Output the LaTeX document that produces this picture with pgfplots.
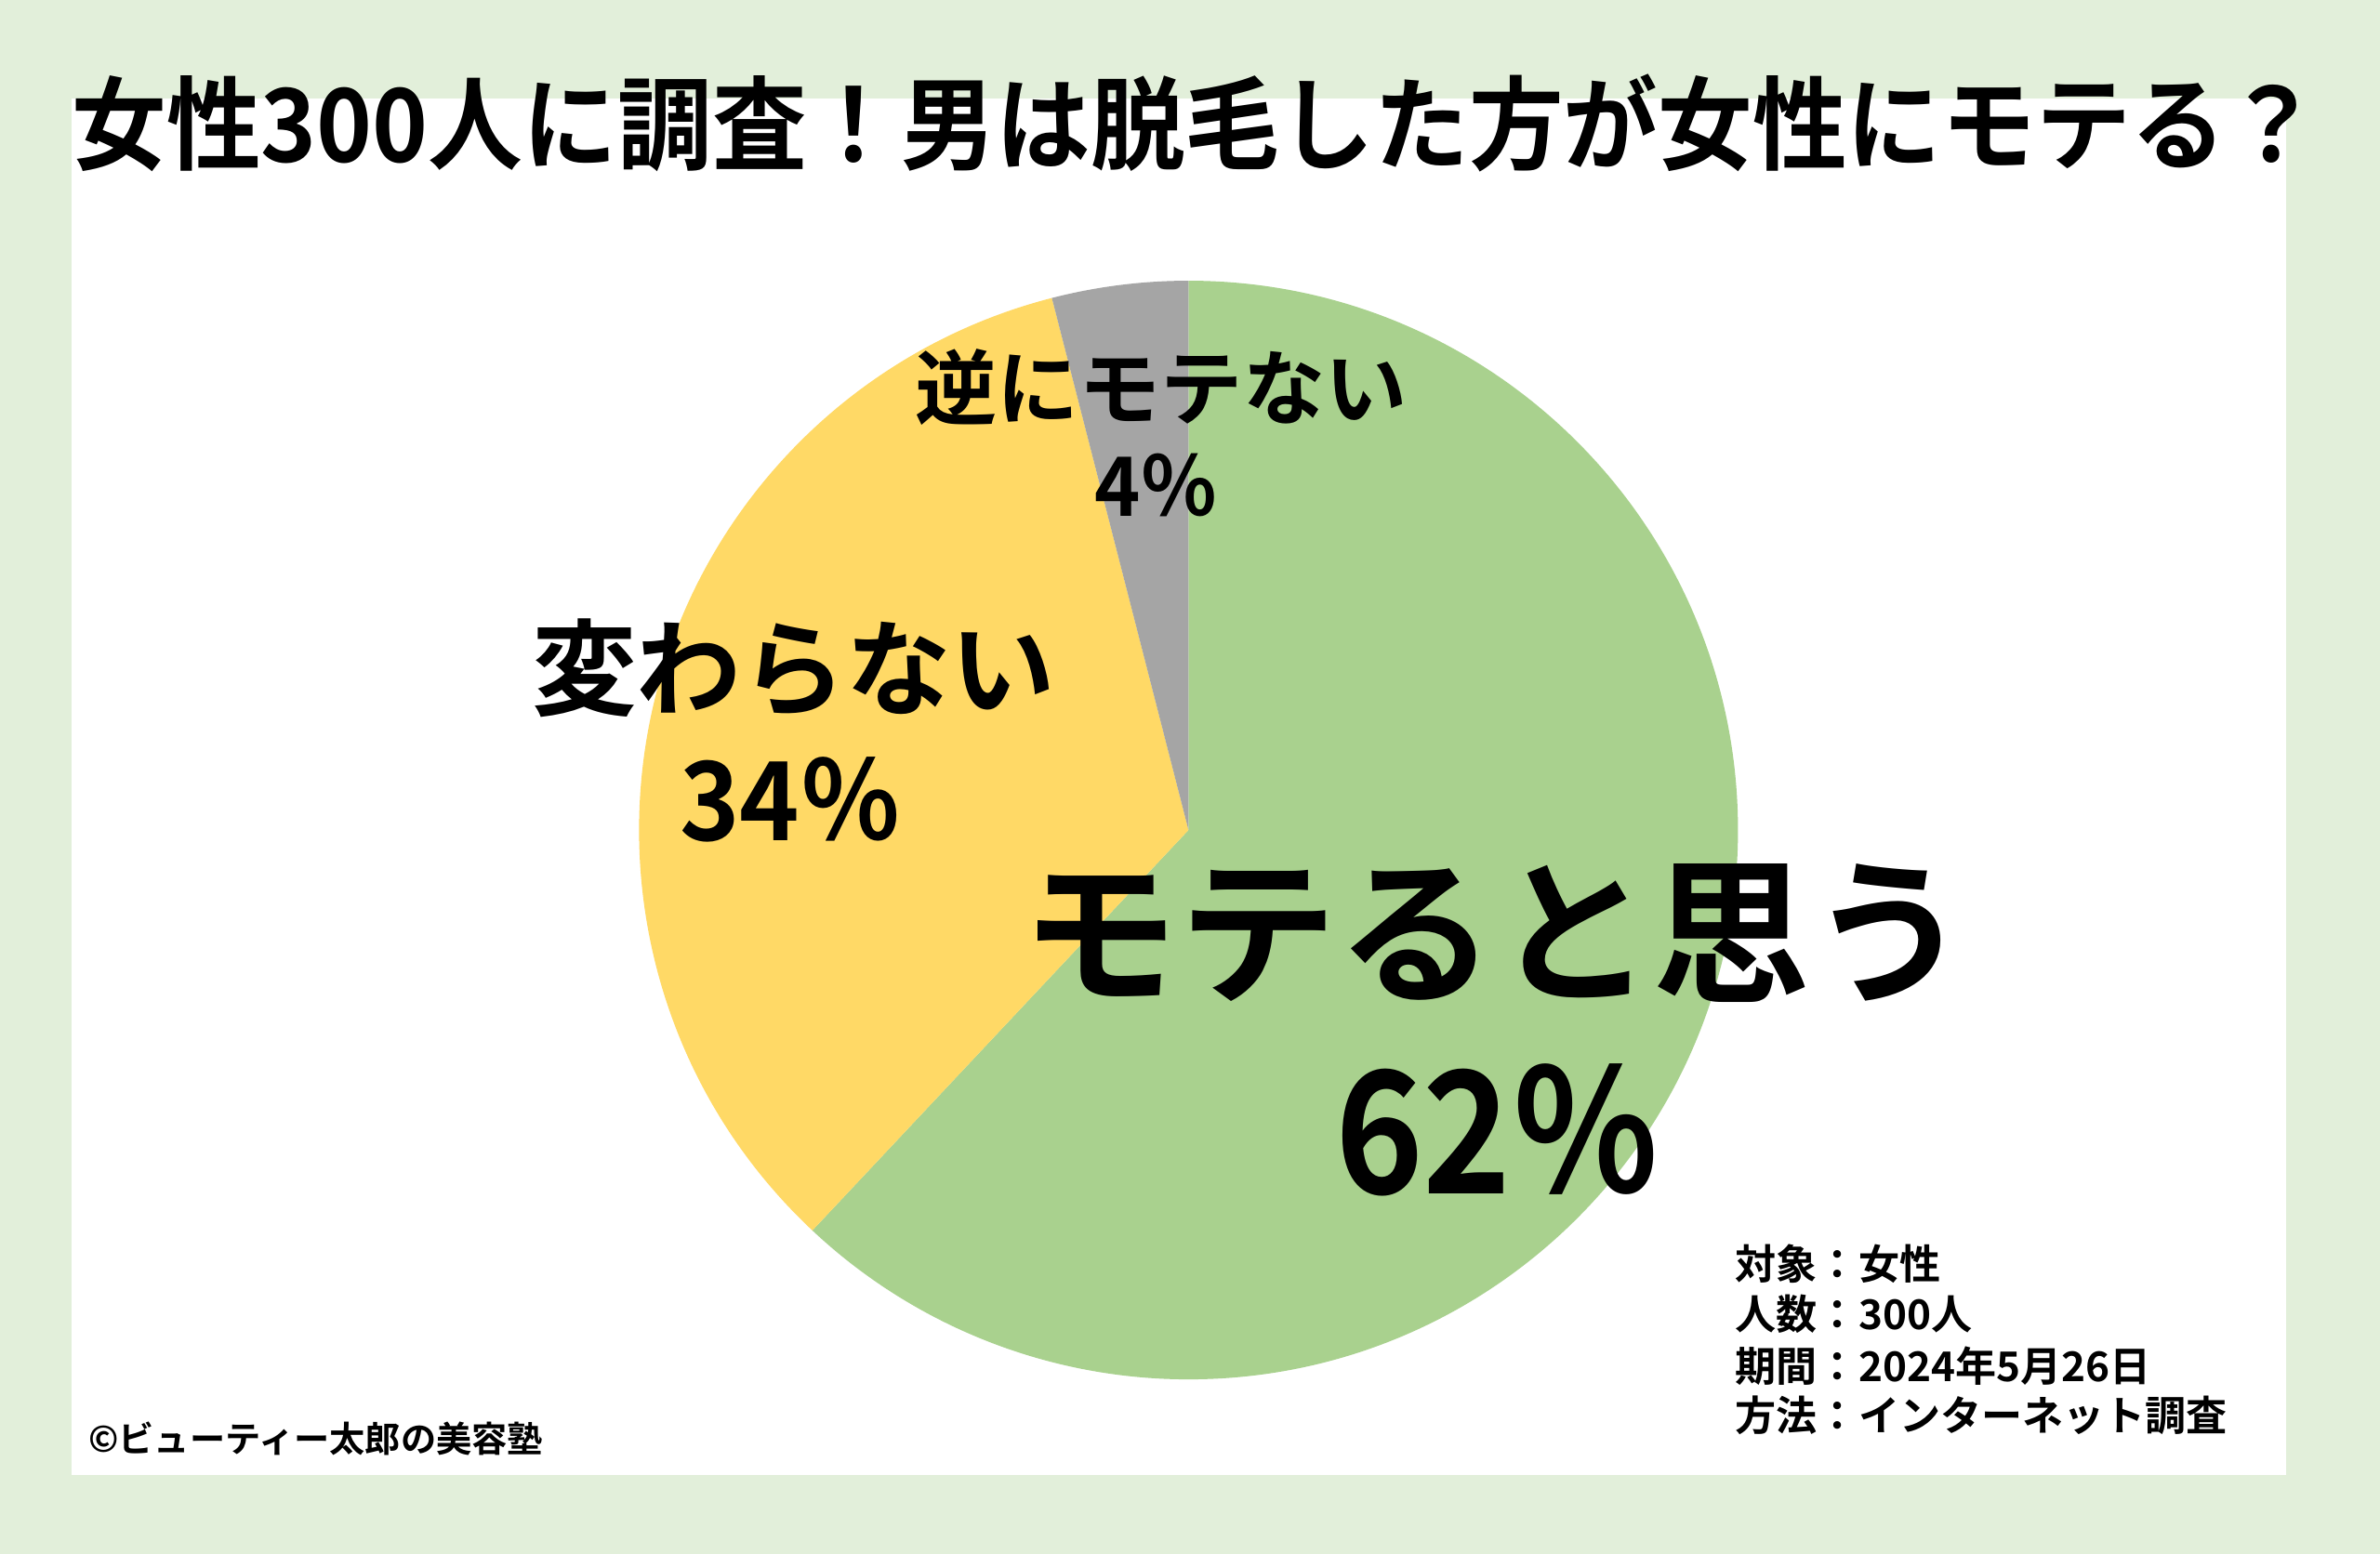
\documentclass[border=0pt]{standalone}
\usepackage{fontspec}
\usepackage{pgfplots}
\usepackage{pgfplotstable}
\pgfplotsset{compat=1.18}
\newfontfamily\jp{Noto Sans CJK JP}[BoldFont={* Bold}]
\definecolor{bgc}{HTML}{E2EFDA}
\definecolor{pieG}{HTML}{A9D18E}
\definecolor{pieY}{HTML}{FFD966}
\definecolor{pieS}{HTML}{A5A5A5}
\pgfplotstableread{
value
62
34
4
}\piedata
\begin{document}%
\begin{tikzpicture}
\pgfplotstablegetelem{0}{value}\of\piedata \let\vA\pgfplotsretval
\pgfplotstablegetelem{1}{value}\of\piedata \let\vB\pgfplotsretval
\pgfplotstablegetelem{2}{value}\of\piedata \let\vC\pgfplotsretval
\pgfmathsetmacro\aA{90}
\pgfmathsetmacro\aB{\aA-3.6*\vA}
\pgfmathsetmacro\aC{\aB-3.6*\vB}
\pgfmathsetmacro\aD{\aC-3.6*\vC}
\begin{axis}[
  scale only axis, width=784pt, height=512pt,
  xmin=0, xmax=1568, ymin=0, ymax=1024,
  hide axis, clip=false,
]
\fill[bgc] (axis cs:0,0) rectangle (axis cs:1568,1024);
\fill[white] (axis cs:47,52) rectangle (axis cs:1506,959);
% pie
\fill[pieG] (axis cs:783,477) -- ([shift={(canvas polar cs:angle=\aA,radius=181pt)}]axis cs:783,477) arc[start angle=\aA, end angle=\aB, radius=181pt] -- cycle;
\fill[pieY] (axis cs:783,477) -- ([shift={(canvas polar cs:angle=\aB,radius=181pt)}]axis cs:783,477) arc[start angle=\aB, end angle=\aC, radius=181pt] -- cycle;
\fill[pieS] (axis cs:783,477) -- ([shift={(canvas polar cs:angle=\aC,radius=181pt)}]axis cs:783,477) arc[start angle=\aC, end angle=\aD, radius=181pt] -- cycle;
% title
\node[inner sep=0, anchor=center, font=\jp\bfseries\fontsize{33.5}{38}\selectfont] at (axis cs:788,943) {\scalebox{0.93}[1]{女性300人に調査！男は脱毛した方が女性にモテる？}};
% labels
\node[inner sep=0, font=\jp\bfseries\fontsize{27}{30}\selectfont] at (axis cs:765,769) {逆にモテない};
\node[inner sep=0, font=\jp\bfseries\fontsize{27}{30}\selectfont] at (axis cs:762,704) {\scalebox{0.95}[1]{4％}};
\node[inner sep=0, font=\jp\bfseries\fontsize{34.5}{40}\selectfont] at (axis cs:523,584) {変わらない};
\node[inner sep=0, font=\jp\bfseries\fontsize{36}{40}\selectfont] at (axis cs:521,497) {\scalebox{0.93}[1]{34％}};
\node[inner sep=0, font=\jp\bfseries\fontsize{52}{60}\selectfont] at (axis cs:985,409) {モテると思う};
\node[inner sep=0, font=\jp\bfseries\fontsize{56}{64}\selectfont] at (axis cs:987,279) {\scalebox{0.88}[1]{62％}};
% footer
\node[inner sep=0, anchor=west, font=\jp\bfseries\fontsize{13.5}{16}\selectfont] at (axis cs:1143,191) {対象：女性};
\node[inner sep=0, anchor=west, font=\jp\bfseries\fontsize{13.5}{16}\selectfont] at (axis cs:1143,158) {人数：300人};
\node[inner sep=0, anchor=west, font=\jp\bfseries\fontsize{13.5}{16}\selectfont] at (axis cs:1143,124) {期間：2024年5月26日};
\node[inner sep=0, anchor=west, font=\jp\bfseries\fontsize{13.5}{16}\selectfont] at (axis cs:1143,91) {方法：インターネット調査};
\node[inner sep=0, anchor=west, font=\jp\bfseries\fontsize{11.7}{14}\selectfont] at (axis cs:58,76) {©ビューティー太郎の美容塾};
\end{axis}
\end{tikzpicture}%
\end{document}
